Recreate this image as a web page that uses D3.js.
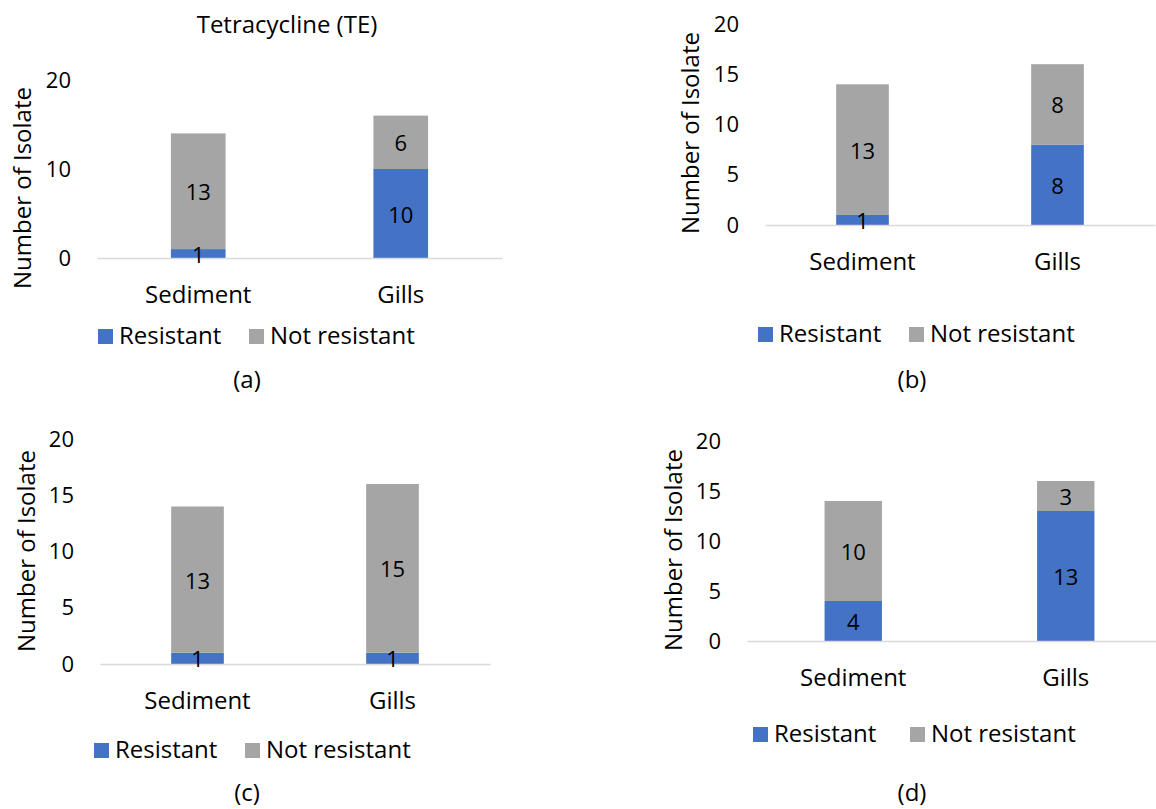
<!DOCTYPE html>
<html>
<head>
<meta charset="utf-8">
<script src="https://cdnjs.cloudflare.com/ajax/libs/d3/7.8.5/d3.min.js"></script>
<style>
body { margin: 0; background: #fff; }
svg text { font-family: 'Open Sans', sans-serif; fill: #000; }
</style>
</head>
<body>
<div class="canvas"></div>
<script>
//DATA
const categories = ['Sediment', 'Gills'];
const seriesNames = ['Resistant', 'Not resistant'];
const resistantA = [1, 10];
const notResistantA = [13, 6];
const resistantB = [1, 8];
const notResistantB = [13, 8];
const resistantC = [1, 1];
const notResistantC = [13, 15];
const resistantD = [4, 13];
const notResistantD = [10, 3];
const ticksA = [0, 10, 20];
const ticksBCD = [0, 5, 10, 15, 20];
const panelTags = ['(a)', '(b)', '(c)', '(d)'];
const titleA = 'Tetracycline (TE)';
const yTitle = 'Number of Isolate';

const colors = ['#4472C4', '#A5A5A5'];
const fs = 22;     // ticks, data labels
const fsBig = 24;  // other text

//SVG
const svg = d3.select('.canvas').append('svg')
    .attr('width', 1156)
    .attr('height', 809);

//LAYOUT OF EACH PANEL (pixel positions)
const panels = [
    { res: resistantA, not: notResistantA, ticks: ticksA, tag: panelTags[0], title: titleA,
      x: [97, 502], y: [258, 80], yt: [31, 188], leg: [98, 249, 329], tagPos: [247, 388], titlePos: [287, 33] },
    { res: resistantB, not: notResistantB, ticks: ticksBCD, tag: panelTags[1],
      x: [765, 1155], y: [225, 24], yt: [699, 133], leg: [758, 909, 327], tagPos: [912, 388] },
    { res: resistantC, not: notResistantC, ticks: ticksBCD, tag: panelTags[2],
      x: [100, 490], y: [664, 439], yt: [35, 551], leg: [94, 245, 743], tagPos: [247, 801] },
    { res: resistantD, not: notResistantD, ticks: ticksBCD, tag: panelTags[3],
      x: [747, 1172], y: [641, 441], yt: [682, 550], leg: [753, 910, 727], tagPos: [912, 801] }
];

function drawPanel(p) {
    const g = svg.append('g');

    const rows = categories.map((c, i) => ({ cat: c, Resistant: p.res[i], 'Not resistant': p.not[i] }));
    const stacked = d3.stack().keys(seriesNames)(rows);

    const x = d3.scaleBand()
        .domain(categories)
        .range(p.x)
        .paddingInner(0.73)
        .paddingOuter(0.365);
    const y = d3.scaleLinear()
        .domain([0, 20])
        .range(p.y);

    //y axis
    g.append('g')
        .attr('transform', 'translate(' + p.x[0] + ',0)')
        .call(d3.axisLeft(y).tickValues(p.ticks).tickSize(0).tickPadding(26))
        .call(a => a.select('.domain').remove())
        .selectAll('text')
        .attr('font-family', null)
        .attr('font-size', fs)
        .attr('fill', '#000');

    //bars
    g.selectAll('.layer')
        .data(stacked)
        .enter().append('g')
            .attr('fill', (d, i) => colors[i])
        .selectAll('rect')
        .data(d => d)
        .enter().append('rect')
            .attr('x', d => x(d.data.cat))
            .attr('y', d => y(d[1]))
            .attr('width', x.bandwidth())
            .attr('height', d => y(d[0]) - y(d[1]));

    //x axis (light line + category labels)
    g.append('g')
        .attr('transform', 'translate(0,' + p.y[0] + ')')
        .call(d3.axisBottom(x).tickSize(0).tickSizeOuter(0).tickPadding(28))
        .call(a => a.select('.domain').attr('stroke', '#D9D9D9').attr('stroke-width', 1.5))
        .selectAll('text')
        .attr('font-family', null)
        .attr('font-size', fsBig)
        .attr('fill', '#000');

    //data labels
    stacked.forEach(s => {
        g.selectAll(null)
            .data(s)
            .enter().append('text')
            .attr('x', d => x(d.data.cat) + x.bandwidth() / 2)
            .attr('y', d => (y(d[0]) + y(d[1])) / 2)
            .attr('text-anchor', 'middle')
            .attr('dominant-baseline', 'central')
            .attr('font-size', fs)
            .text(d => d[1] - d[0]);
    });

    //y title
    g.append('text')
        .attr('transform', 'translate(' + p.yt[0] + ',' + p.yt[1] + ') rotate(-90)')
        .attr('text-anchor', 'middle')
        .attr('font-size', fsBig)
        .text(yTitle);

    //legend
    seriesNames.forEach((s, i) => {
        g.append('rect')
            .attr('x', p.leg[i])
            .attr('y', p.leg[2])
            .attr('width', 15)
            .attr('height', 15)
            .attr('fill', colors[i]);
        g.append('text')
            .attr('x', p.leg[i] + 21)
            .attr('y', p.leg[2] + 15)
            .attr('font-size', fsBig)
            .text(s);
    });

    //panel tag
    g.append('text')
        .attr('x', p.tagPos[0])
        .attr('y', p.tagPos[1])
        .attr('text-anchor', 'middle')
        .attr('font-size', fsBig)
        .text(p.tag);

    if (p.title) {
        g.append('text')
            .attr('x', p.titlePos[0])
            .attr('y', p.titlePos[1])
            .attr('text-anchor', 'middle')
            .attr('font-size', fsBig)
            .text(p.title);
    }
}

panels.forEach(drawPanel);
</script>
</body>
</html>
